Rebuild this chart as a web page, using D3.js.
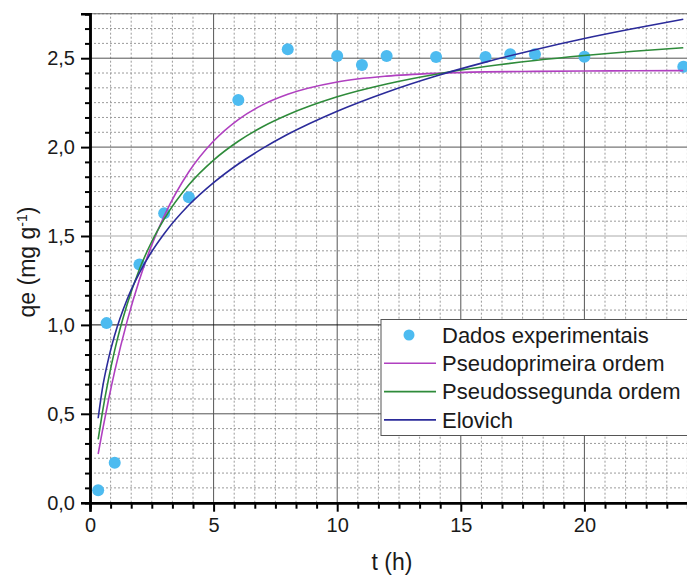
<!DOCTYPE html>
<html>
<head>
<meta charset="utf-8">
<script src="https://cdn.jsdelivr.net/npm/d3@7"></script>
<style>
  body { margin: 0; background: #fff; }
  svg { display: block; font-family: "Liberation Sans", Arial, sans-serif; }
</style>
</head>
<body>
<script>
// experimental points
const tExp = [0.33, 0.67, 1, 2, 3, 4, 6, 8, 10, 11, 12, 14, 16, 17, 18, 20, 24];
const qExp = [0.07, 1.01, 0.225, 1.34, 1.628, 1.718, 2.265, 2.55, 2.512, 2.462, 2.512, 2.507, 2.507, 2.522, 2.522, 2.508, 2.452];

// fitted curves
const tFit = [0.33, 0.5, 0.75, 1, 1.5, 2, 2.5, 3, 4, 5, 6, 7, 8, 10, 12, 14, 16, 18, 20, 22, 24];
const qPFO = [0.274, 0.403, 0.579, 0.740, 1.020, 1.254, 1.450, 1.612, 1.861, 2.034, 2.155, 2.239, 2.297, 2.366, 2.399, 2.415, 2.423, 2.426, 2.428, 2.429, 2.430];
const qPSO = [0.356, 0.506, 0.696, 0.858, 1.115, 1.313, 1.469, 1.595, 1.788, 1.927, 2.033, 2.116, 2.182, 2.283, 2.355, 2.410, 2.453, 2.487, 2.515, 2.539, 2.559];
const qElo = [0.475, 0.640, 0.810, 0.943, 1.143, 1.293, 1.413, 1.513, 1.674, 1.800, 1.905, 1.994, 2.072, 2.202, 2.309, 2.400, 2.478, 2.548, 2.611, 2.667, 2.719];

const seriesNames = ['Dados experimentais', 'Pseudoprimeira ordem', 'Pseudossegunda ordem', 'Elovich'];
const xTicks = [0, 5, 10, 15, 20];
const yTicks = [0, 0.5, 1.0, 1.5, 2.0, 2.5];

const width = 687;
const height = 578;

const colors = {
  point: '#4dbbf0',
  pfo: '#b040c0',
  pso: '#2e8b3a',
  elo: '#2b2b9a'
};

const svg = d3.select('body')
  .append('svg')
    .attr('width', width)
    .attr('height', height);

const xScale = d3.scaleLinear()
  .domain([0, 25])
  .range([90, 90 + 25 * 24.72]);

const yScale = d3.scaleLinear()
  .domain([0, 2.75])
  .range([502.7, 13.75]);

const locale = d3.formatLocale({ decimal: ',', thousands: '.', grouping: [3], currency: ['', ''] });
const yFmt = locale.format('.1f');

// minor grid (6 divisions per major)
const xMinor = d3.range(0, 25.001, 5 / 6).filter(v => Math.abs(v / 5 - Math.round(v / 5)) > 1e-6);
const yMinor = d3.range(0, 2.7501, 0.5 / 6).filter(v => Math.abs(v / 0.5 - Math.round(v / 0.5)) > 1e-6);

const grid = svg.append('g').attr('class', 'grid');

grid.selectAll('.xminor')
  .data(xMinor)
  .join('line')
    .attr('x1', d => xScale(d)).attr('x2', d => xScale(d))
    .attr('y1', yScale(0)).attr('y2', yScale(2.75))
    .attr('stroke', '#9a9a9a')
    .attr('stroke-dasharray', '2,2');

grid.selectAll('.yminor')
  .data(yMinor)
  .join('line')
    .attr('x1', xScale(0)).attr('x2', xScale(25))
    .attr('y1', d => yScale(d)).attr('y2', d => yScale(d))
    .attr('stroke', '#9a9a9a')
    .attr('stroke-dasharray', '2,2');

grid.selectAll('.xmajor')
  .data(xTicks.slice(1).concat([25]))
  .join('line')
    .attr('x1', d => xScale(d)).attr('x2', d => xScale(d))
    .attr('y1', yScale(0)).attr('y2', yScale(2.75))
    .attr('stroke', '#555');

grid.selectAll('.ymajor')
  .data(yTicks.slice(1))
  .join('line')
    .attr('x1', xScale(0)).attr('x2', xScale(25))
    .attr('y1', d => yScale(d)).attr('y2', d => yScale(d))
    .attr('stroke', d => d === 1.0 ? '#111' : (d === 1.5 ? '#aaa' : '#555'));

// top frame
grid.append('line')
  .attr('x1', xScale(0)).attr('x2', xScale(25))
  .attr('y1', yScale(2.75)).attr('y2', yScale(2.75))
  .attr('stroke', '#666');

// points
svg.append('g').selectAll('circle')
  .data(tExp.map((t, i) => ({ t: t, q: qExp[i] })))
  .join('circle')
    .attr('cx', d => xScale(d.t))
    .attr('cy', d => yScale(d.q))
    .attr('r', 6)
    .attr('fill', colors.point);

// curves
const line = d3.line()
  .x(d => xScale(d[0]))
  .y(d => yScale(d[1]))
  .curve(d3.curveMonotoneX);

const fits = [
  { key: 'pfo', values: qPFO },
  { key: 'pso', values: qPSO },
  { key: 'elo', values: qElo }
];

svg.append('g').selectAll('path')
  .data(fits)
  .join('path')
    .attr('d', d => line(tFit.map((t, i) => [t, d.values[i]])))
    .attr('fill', 'none')
    .attr('stroke', d => colors[d.key])
    .attr('stroke-width', 1.6);

// axes
const xAxisG = svg.append('g')
  .attr('transform', `translate(0, ${yScale(0)})`);
xAxisG.call(d3.axisBottom(xScale).tickValues(xMinor).tickSize(6).tickFormat(''));
xAxisG.append('g').call(d3.axisBottom(xScale).tickValues(xTicks).tickSize(9).tickPadding(6).tickFormat(d3.format('d')));

const yAxisG = svg.append('g')
  .attr('transform', `translate(${xScale(0)}, 0)`);
yAxisG.call(d3.axisLeft(yScale).tickValues(yMinor.concat([2.75])).tickSize(5).tickFormat(''));
yAxisG.append('g').call(d3.axisLeft(yScale).tickValues(yTicks).tickSize(9).tickPadding(6).tickFormat(yFmt));

svg.selectAll('.domain')
  .attr('stroke', '#000')
  .attr('stroke-width', 2.5);
svg.selectAll('.tick line')
  .attr('stroke', '#000')
  .attr('stroke-width', 2);
svg.selectAll('.tick text')
  .attr('font-family', '"Liberation Sans", Arial, sans-serif')
  .attr('font-size', 20)
  .attr('fill', '#1a1a1a');

// axis titles
svg.append('text')
  .attr('x', 392)
  .attr('y', 570)
  .attr('text-anchor', 'middle')
  .attr('font-size', 23)
  .attr('fill', '#1a1a1a')
  .text('t (h)');

const yTitle = svg.append('text')
  .attr('transform', 'translate(35, 262) rotate(-90)')
  .attr('text-anchor', 'middle')
  .attr('font-size', 23)
  .attr('fill', '#1a1a1a');
yTitle.append('tspan').text('qe (mg g');
yTitle.append('tspan').attr('baseline-shift', 'super').attr('font-size', 14).text('-1');
yTitle.append('tspan').text(')');

// legend
const legend = svg.append('g')
  .attr('transform', 'translate(381, 319.5)');

legend.append('rect')
  .attr('width', 330)
  .attr('height', 116)
  .attr('fill', '#fff')
  .attr('stroke', '#555')
  .attr('stroke-width', 1);

const legendKeys = ['point', 'pfo', 'pso', 'elo'];
const rows = legend.selectAll('.row')
  .data(seriesNames)
  .join('g')
    .attr('transform', (d, i) => `translate(0, ${15.5 + i * 28.3})`);

rows.each(function(d, i) {
  const row = d3.select(this);
  if (i === 0) {
    row.append('circle')
      .attr('cx', 28)
      .attr('cy', 0)
      .attr('r', 5.5)
      .attr('fill', colors.point);
  } else {
    row.append('line')
      .attr('x1', 3).attr('x2', 55)
      .attr('y1', 0).attr('y2', 0)
      .attr('stroke', colors[legendKeys[i]])
      .attr('stroke-width', 1.6);
  }
  row.append('text')
    .attr('x', 61)
    .attr('y', 7.8)
    .attr('font-size', 22)
    .attr('fill', '#1a1a1a')
    .text(d);
});
</script>
</body>
</html>
